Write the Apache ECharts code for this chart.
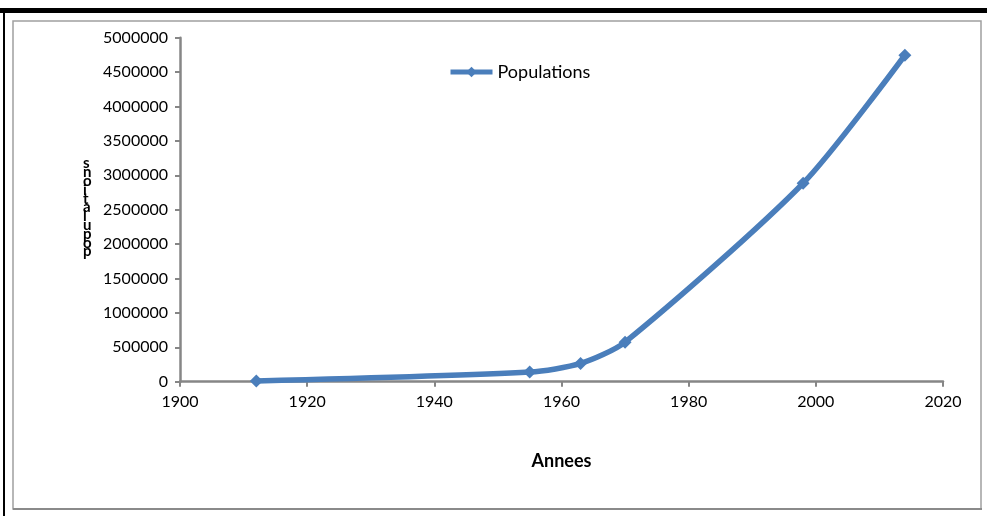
<!DOCTYPE html>
<html>
<head>
<meta charset="utf-8">
<script src="https://cdn.jsdelivr.net/npm/echarts@6/dist/echarts.min.js"></script>
<style>
  html, body { margin: 0; padding: 0; background: #fff; }
  #chart { width: 987px; height: 516px; }
</style>
</head>
<body>
<div id="chart"></div>
<script>
// donnees
const years = [1912, 1955, 1963, 1970, 1998, 2014]
const populations = [10000, 140000, 265000, 575000, 2885000, 4745000]
const seriesName = 'Populations'
const xName = 'Annees'
const yName = 'populations'

const font = 'Lato, "Open Sans", sans-serif'
const axisGrey = '#868686'

const chart = echarts.init(document.getElementById('chart'))
chart.setOption({
  animation: false,
  backgroundColor: '#fff',
  graphic: [
    // cadre exterieur
    { type: 'rect', shape: { x: 0, y: 8, width: 987, height: 5 }, style: { fill: '#000' } },
    { type: 'rect', shape: { x: 3, y: 8, width: 2, height: 508 }, style: { fill: '#000' } },
    { type: 'rect', shape: { x: 13, y: 21, width: 968, height: 488 }, style: { fill: 'none', stroke: '#a0a0a0', lineWidth: 1.5 } },
    { type: 'rect', shape: { x: 13, y: 508, width: 969, height: 2 }, style: { fill: '#8a8a8a' } },
    // titre vertical de l'axe y (lettres empilees)
    {
      type: 'text',
      left: 83,
      top: 156,
      style: {
        text: yName.split('').reverse().join('\n'),
        fontFamily: font,
        fontSize: 15,
        fontWeight: 'bold',
        lineHeight: 8.8,
        fill: '#000'
      }
    }
  ],
  legend: {
    left: 443,
    top: 58,
    itemWidth: 42,
    itemHeight: 13,
    itemGap: 5,
    lineStyle: { width: 5 },
    textStyle: { fontFamily: font, fontSize: 18, color: '#000' },
    data: [seriesName]
  },
  grid: {
    left: 180,
    right: 44,
    top: 37.7,
    bottom: 134.3,
    containLabel: false
  },
  xAxis: {
    type: 'value',
    min: 1900,
    max: 2020,
    interval: 20,
    name: xName,
    nameLocation: 'middle',
    nameGap: 70,
    nameTextStyle: { fontFamily: font, fontSize: 18, fontWeight: 'bold', color: '#000' },
    axisLine: { lineStyle: { color: axisGrey, width: 2.5 } },
    axisTick: { show: true, length: 5, lineStyle: { color: axisGrey, width: 2 } },
    axisLabel: { fontFamily: font, fontSize: 16, color: '#000', margin: 12, formatter: v => String(v) },
    splitLine: { show: false }
  },
  yAxis: {
    type: 'value',
    min: 0,
    max: 5000000,
    interval: 500000,
    axisLine: { show: true, lineStyle: { color: axisGrey, width: 2.5 } },
    axisTick: { show: true, length: 5, lineStyle: { color: axisGrey, width: 2 } },
    axisLabel: { fontFamily: font, fontSize: 16, color: '#000', margin: 12, formatter: v => String(v) },
    splitLine: { show: false }
  },
  series: [
    {
      name: seriesName,
      type: 'line',
      smooth: 0.25,
      data: years.map((y, i) => [y, populations[i]]),
      color: '#4A7EBB',
      lineStyle: { width: 5.5, color: '#4A7EBB' },
      symbol: 'diamond',
      symbolSize: 13,
      itemStyle: { color: '#4A7EBB' }
    }
  ]
})
</script>
</body>
</html>
